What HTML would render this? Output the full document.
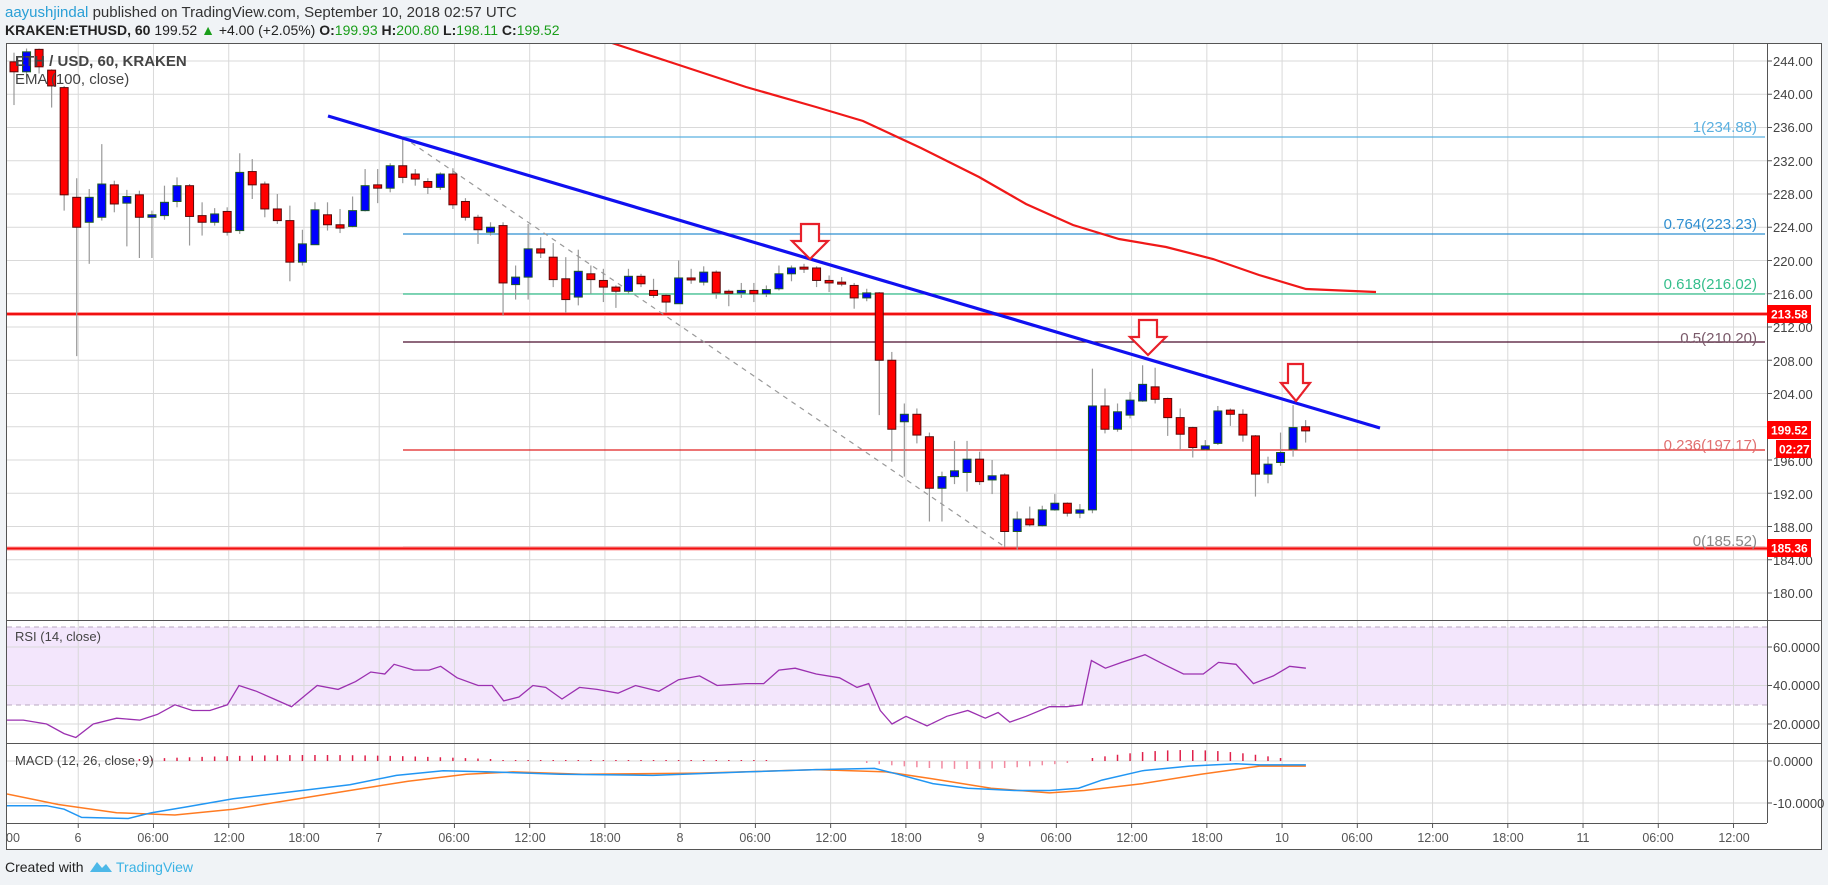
<!DOCTYPE html>
<html><head><meta charset="utf-8"><style>
html,body{margin:0;padding:0;background:#f0f3f6;width:1828px;height:885px;overflow:hidden;font-family:"Liberation Sans",sans-serif}
svg{position:absolute;left:0;top:0}
</style></head><body>
<svg id="s" width="1828" height="885" viewBox="0 0 1828 885" xmlns="http://www.w3.org/2000/svg" font-family="Liberation Sans, sans-serif">
<defs><clipPath id="pc"><rect x="7" y="44" width="1760" height="576"/></clipPath>
<clipPath id="rc"><rect x="7" y="621" width="1760" height="122"/></clipPath>
<clipPath id="mc"><rect x="7" y="744" width="1760" height="79"/></clipPath></defs>
<text x="5" y="17" font-size="15" fill="#2a9fd6">aayushjindal <tspan fill="#333">published on TradingView.com, September 10, 2018 02:57 UTC</tspan></text>
<text x="5" y="35" font-size="14" fill="#222"><tspan font-weight="bold">KRAKEN:ETHUSD, 60</tspan> 199.52 <tspan fill="#1a9e1a">▲</tspan> +4.00 (+2.05%) <tspan font-weight="bold">O:</tspan><tspan fill="#1a9e1a">199.93</tspan> <tspan font-weight="bold">H:</tspan><tspan fill="#1a9e1a">200.80</tspan> <tspan font-weight="bold">L:</tspan><tspan fill="#1a9e1a">198.11</tspan> <tspan font-weight="bold">C:</tspan><tspan fill="#1a9e1a">199.52</tspan></text>
<rect x="6.5" y="43.5" width="1815" height="806" fill="#fff" stroke="#555"/>
<rect x="7" y="627" width="1760" height="78" fill="#f3e6fc"/>
<g id="grid" stroke="#d9d9d9" stroke-width="1"></g>
<line x1="7" y1="627" x2="1767" y2="627" stroke="#b8a8c0" stroke-dasharray="5,4"/>
<line x1="7" y1="705" x2="1767" y2="705" stroke="#b8a8c0" stroke-dasharray="5,4"/>
<g clip-path="url(#pc)">
<line x1="403" y1="137" x2="1765" y2="137" stroke="#5ab0e0" stroke-width="1.2"/>
<line x1="403" y1="234" x2="1765" y2="234" stroke="#2f8fd0" stroke-width="1.2"/>
<line x1="403" y1="294" x2="1765" y2="294" stroke="#35be8c" stroke-width="1.2"/>
<line x1="403" y1="342" x2="1765" y2="342" stroke="#4a0f2e" stroke-width="1.2"/>
<line x1="403" y1="450" x2="1765" y2="450" stroke="#e02020" stroke-width="1.2"/>
<line x1="403" y1="547" x2="1765" y2="547" stroke="#888" stroke-width="1.2"/>
<line x1="7" y1="314" x2="1767" y2="314" stroke="#ff9a9a" stroke-width="4"/>
<line x1="7" y1="314" x2="1767" y2="314" stroke="#f01010" stroke-width="2"/>
<line x1="7" y1="548.5" x2="1767" y2="548.5" stroke="#ff9a9a" stroke-width="4"/>
<line x1="7" y1="548.5" x2="1767" y2="548.5" stroke="#f01010" stroke-width="2"/>
<line x1="403" y1="137" x2="1005" y2="547" stroke="#999" stroke-width="1.2" stroke-dasharray="5,5"/>
<g id="candles"></g>
<polyline fill="none" stroke="#f01818" stroke-width="2.2" points="600,39 612,43 676,64 746,87 816,107 863,121 921,148 979,177 1026,204 1073,225 1119,239 1166,247 1213,259 1259,275 1306,289 1376,292"/>
<line x1="328" y1="116" x2="1380" y2="428" stroke="#1010f0" stroke-width="3.2"/>
<g fill="#fff" stroke="#e8202a" stroke-width="2.2">
<path d="M801,224 H819 V241 H828 L810,259 L792,241 H801 Z"/>
<path d="M1139,320 H1157 V337 H1166 L1148,355 L1130,337 H1139 Z"/>
<path d="M1288,364 H1303 V383 H1310 L1296,401 L1281,383 H1288 Z"/>
</g>
</g>
<g font-size="15" text-anchor="end">
<text x="1757" y="132" fill="#5ab0e0">1(234.88)</text>
<text x="1757" y="229" fill="#2f8fd0">0.764(223.23)</text>
<text x="1757" y="289" fill="#35be8c">0.618(216.02)</text>
<text x="1757" y="343" fill="#7a5a6a">0.5(210.20)</text>
<text x="1757" y="450" fill="#e07070">0.236(197.17)</text>
<text x="1757" y="546" fill="#888">0(185.52)</text>
</g>
<text x="15" y="66" font-size="15" font-weight="bold" fill="#444">ETH / USD, 60, KRAKEN</text>
<text x="15" y="84" font-size="15" fill="#444">EMA (100, close)</text>
<g clip-path="url(#rc)"><polyline id="rsi" fill="none" stroke="#9b30b0" stroke-width="1.3"/></g>
<text x="15" y="641" font-size="13" fill="#444">RSI (14, close)</text>
<g clip-path="url(#mc)"><g id="hist"></g>
<polyline id="sig" fill="none" stroke="#ff7b22" stroke-width="1.5"/>
<polyline id="macd" fill="none" stroke="#2196f3" stroke-width="1.5"/></g>
<text x="15" y="765" font-size="13" fill="#444">MACD (12, 26, close, 9)</text>
<line x1="1767.5" y1="43" x2="1767.5" y2="823" stroke="#555"/>
<line x1="6" y1="620.5" x2="1822" y2="620.5" stroke="#555"/>
<line x1="6" y1="743.5" x2="1822" y2="743.5" stroke="#555"/>
<line x1="6" y1="823.5" x2="1767" y2="823.5" stroke="#555"/>
<g id="ticks" stroke="#555"></g>
<g font-size="13" fill="#444">
<text x="1773" y="66">244.00</text><text x="1773" y="99">240.00</text><text x="1773" y="132">236.00</text><text x="1773" y="166">232.00</text><text x="1773" y="199">228.00</text><text x="1773" y="232">224.00</text><text x="1773" y="266">220.00</text><text x="1773" y="299">216.00</text><text x="1773" y="332">212.00</text><text x="1773" y="366">208.00</text><text x="1773" y="399">204.00</text><text x="1773" y="466">196.00</text><text x="1773" y="499">192.00</text><text x="1773" y="532">188.00</text><text x="1773" y="565">184.00</text><text x="1773" y="598">180.00</text>
<text x="1773" y="652">60.0000</text><text x="1773" y="690">40.0000</text><text x="1773" y="729">20.0000</text>
<text x="1773" y="766">0.0000</text><text x="1773" y="808">-10.0000</text>
</g>
<g font-size="12" font-weight="bold" fill="#fff">
<rect x="1767" y="305" width="44" height="18" fill="#ff0000"/><text x="1771" y="318.5">213.58</text>
<rect x="1767" y="421" width="44" height="18" fill="#ff0000"/><text x="1771" y="434.5">199.52</text>
<rect x="1776" y="440" width="35" height="18" fill="#ff0000"/><text x="1779" y="453.5">02:27</text>
<rect x="1767" y="539" width="44" height="18" fill="#ff0000"/><text x="1771" y="552.5">185.36</text>
</g>
<g font-size="12.5" fill="#555" text-anchor="middle">
<text x="13" y="842">00</text><text x="78" y="842">6</text><text x="153" y="842">06:00</text><text x="229" y="842">12:00</text><text x="304" y="842">18:00</text><text x="379" y="842">7</text><text x="454" y="842">06:00</text><text x="530" y="842">12:00</text><text x="605" y="842">18:00</text><text x="680" y="842">8</text><text x="755" y="842">06:00</text><text x="831" y="842">12:00</text><text x="906" y="842">18:00</text><text x="981" y="842">9</text><text x="1056" y="842">06:00</text><text x="1132" y="842">12:00</text><text x="1207" y="842">18:00</text><text x="1282" y="842">10</text><text x="1357" y="842">06:00</text><text x="1433" y="842">12:00</text><text x="1508" y="842">18:00</text><text x="1583" y="842">11</text><text x="1658" y="842">06:00</text><text x="1734" y="842">12:00</text>
</g>
<text x="5" y="872" font-size="14" fill="#222">Created with</text>
<path d="M90,872 L97,862 L102,868 L106,864 L112,872 Z" fill="#4db8e8"/>
<text x="116" y="872" font-size="14" fill="#3bb3e4">TradingView</text>
</svg>
<script>
var NS="http://www.w3.org/2000/svg";
function el(t,a,p){var e=document.createElementNS(NS,t);for(var k in a)e.setAttribute(k,a[k]);p.appendChild(e);return e;}
var g=document.getElementById('grid');
for(var p=244;p>=180;p-=4){var y=61+(244-p)*8.3125;el('line',{x1:7,x2:1767,y1:y,y2:y},g);}
[647,685.5,724,761,803].forEach(function(y){el('line',{x1:7,x2:1767,y1:y,y2:y},g);});
var tk=document.getElementById('ticks');
for(var k=0;k<24;k++){var x=3+k*75.24;if(x>7){el('line',{x1:x,x2:x,y1:44,y2:823},g);el('line',{x1:x,x2:x,y1:823,y2:828},tk);}}
for(var p=244;p>=180;p-=4){var y=61+(244-p)*8.3125;el('line',{x1:1767,x2:1772,y1:y,y2:y},tk);}
[647,685.5,724,761,803].forEach(function(y){el('line',{x1:1767,x2:1772,y1:y,y2:y},tk);});
var D=[[243.9,242.7,245,238.7],[242.7,245.1,245.5,242],[245.4,243.3,245.5,242.5],[242.9,241,243,238.4],[240.8,227.9,241,226],[227.6,224,229.9,208.5],[224.6,227.6,228.6,219.6],[225.2,229.2,234,224.8],[229.1,226.8,229.6,225.8],[226.9,227.7,228.5,221.7],[227.9,225.2,228.4,220.3],[225.2,225.5,226,220.3],[225.4,227,229,224.9],[227.1,229,230,226.4],[229,225.3,229.2,221.8],[225.4,224.6,227,223],[224.6,225.6,226.3,224.2],[225.9,223.4,226.4,223],[223.6,230.6,232.9,223.2],[230.7,229.1,232.2,227.4],[229.2,226.2,229.5,225.2],[226.2,224.8,228,224.4],[224.8,219.8,226.6,217.5],[219.8,222,223.7,219.4],[221.9,226.1,227,221.9],[225.5,224.3,227,223.6],[224.3,223.9,226.2,223.3],[224.1,226,227.7,224],[226,229,231,225.9],[229.1,228.7,231,226.9],[228.7,231.4,231.7,228.2],[231.4,230,234.9,229.3],[230.4,229.8,231,229],[229.5,228.8,229.9,228],[228.8,230.4,230.6,228.5],[230.4,226.7,231.1,226.2],[227.1,225.2,227.5,224.8],[225.2,223.7,225.5,222],[223.4,224,224.6,223],[224.2,217.3,224.6,213.4],[217.1,218,219.4,215.3],[218,221.4,224.4,215.3],[221.4,220.9,222.8,220.3],[220.4,217.7,222.1,216.8],[217.8,215.3,220.4,213.7],[215.6,218.7,221.3,214.6],[218.4,217.7,219.4,216],[217.6,216.8,219,215],[216.8,216.3,217,214.3],[216.3,218.1,219,216],[218.1,217.2,218.4,216.8],[216.4,215.8,217.8,215.5],[215.8,215,216,213.7],[214.8,217.9,220,214.8],[217.9,217.7,219,217.2],[217.4,218.6,219.3,217],[218.6,216.1,218.8,215.4],[216.3,216.1,216.5,214.5],[216.1,216.4,217.3,215.5],[216.4,216,217.3,215],[216,216.5,217,215.6],[216.6,218.4,219.4,216.4],[218.4,219.1,219.4,217.5],[219.2,219.1,219.6,218.5],[219.1,217.6,219.3,216.8],[217.6,217.3,218.2,216.2],[217.4,217.2,218,216.9],[217,215.5,217.3,214.2],[215.5,216.1,216.6,215.1],[216.1,208,216.2,201.4],[208,199.7,209,195.8],[200.6,201.5,202.8,194],[201.5,199,202.2,198],[198.8,192.6,199.3,188.6],[192.6,194,194.6,188.6],[194,194.7,198.3,193.1],[194.5,196.1,198.3,192.2],[196.1,193.4,197,193],[193.6,194.1,196,191.9],[194.2,187.4,194.4,185.5],[187.4,188.9,189.8,185.2],[188.9,188.2,190.4,188],[188.1,190,190.5,188],[190,190.8,191.9,189.9],[190.8,189.6,190.9,189.2],[189.6,190,190.7,189],[190,202.5,207,189.6],[202.5,199.7,204.6,199.2],[199.7,201.8,202.8,199.4],[201.4,203.2,204.2,201],[203.1,205.1,207.4,203],[204.8,203.3,207.1,202.8],[203.4,201.1,203.5,198.9],[201.1,199.1,202.2,197.2],[199.9,197.5,200,196.3],[197.3,197.7,198.4,197.2],[198,201.9,202.5,197.8],[202,201.5,202.2,200.1],[201.5,199,202.1,198.2],[198.9,194.3,199,191.6],[194.3,195.5,196.4,193.2],[195.7,196.9,199.3,195.3],[197.3,199.9,202.6,196.4],[200,199.5,200.8,198.1]];
var cg=document.getElementById('candles');
function Y(p){return 61+(244-p)*8.3125;}
D.forEach(function(c,i){var x=14+12.54*i;var o=c[0],cl=c[1],h=c[2],l=c[3];
el('line',{x1:x,x2:x,y1:Y(h),y2:Y(l),stroke:'#999','stroke-width':1.2},cg);
var up=cl>=o;var t=Y(Math.max(o,cl)),b=Y(Math.min(o,cl));if(b-t<2)b=t+2;
el('rect',{x:x-4,y:t,width:8,height:b-t,fill:up?'#0000ff':'#ff0000',stroke:up?'#1d5a24':'#5a0a0a','stroke-width':1},cg);});
var R=[[5,22],[20,22],[40,20],[55,15],[65,13],[80,20],[100,23],[120,22],[135,25],[150,30],[165,27],[180,27],[195,30],[205,40],[220,37],[235,33],[250,29],[262,35],[272,40],[290,38],[305,42],[318,47],[330,46],[338,51],[355,48],[368,48],[378,50],[392,44],[410,40],[422,40],[432,32],[445,34],[457,40],[468,39],[482,33],[497,39],[512,38],[530,36],[545,40],[565,37],[582,43],[600,45],[615,40],[640,41],[655,41],[668,48],[682,49],[700,46],[720,44],[735,39],[745,41],[755,27],[765,20],[777,24],[795,19],[812,24],[830,27],[845,23],[856,26],[866,21],[880,24],[900,29],[915,29],[928,30],[936,53],[948,49],[962,52],[982,56],[998,51],[1015,46],[1032,46],[1045,52],[1060,51],[1075,41],[1092,45],[1106,50],[1120,49]];
document.getElementById('rsi').setAttribute('points',R.map(function(a){return (a[0]*1.166).toFixed(1)+','+(647+(60-a[1])*1.925).toFixed(1);}).join(' '));
var M=[[6,691],[40,691],[55,694],[70,701],[110,702],[130,697],[160,692],[200,685],[250,679],[300,673],[340,665],[380,661],[420,662],[480,664],[560,665],[640,662],[700,660],[750,659],[770,664],[800,672],[830,676],[870,678],[900,678],[925,676],[945,669],[980,661],[1020,657],[1060,655],[1080,656],[1120,656]];
var S=[[6,681],[50,690],[100,697],[150,699],[200,694],[250,686],[300,678],[350,670],[400,664],[440,662],[500,664],[600,663],[700,660],[760,662],[800,668],[850,676],[900,680],[930,678],[980,672],[1030,664],[1080,657],[1120,657]];
function pts(A){return A.map(function(a){return (a[0]*1.166).toFixed(1)+','+(a[1]*1.166).toFixed(1);}).join(' ');}
document.getElementById('macd').setAttribute('points',pts(M));
document.getElementById('sig').setAttribute('points',pts(S));
var hg=document.getElementById('hist');
for(var i=0;i<104;i++){var x=14+12.54*i;var h=0;
if(i>=10&&i<=38)h=2+4*Math.sin((i-10)/28*Math.PI);
else if(i>=39&&i<=60)h=1;
else if(i>=68&&i<=84)h=-(2+6*Math.sin((i-68)/16*Math.PI));
else if(i>=86&&i<=101)h=3+8*Math.sin((i-86)/15*Math.PI);
if(h>0)el('line',{x1:x,x2:x,y1:761-h,y2:761,stroke:'#e0204a','stroke-width':1.5},hg);
else if(h<0)el('line',{x1:x,x2:x,y1:761,y2:761-h,stroke:'#f28aa0','stroke-width':1.5},hg);}
</script>
</body></html>
